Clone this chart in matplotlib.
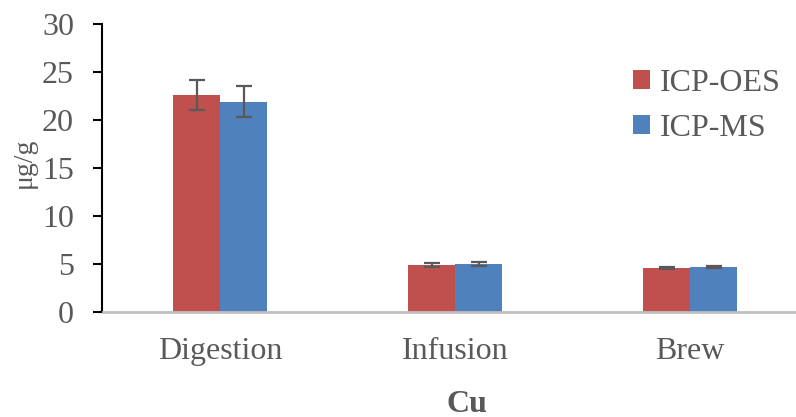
import matplotlib
matplotlib.use("Agg")
import matplotlib.pyplot as plt
import numpy as np

# data
categories = ["Digestion", "Infusion", "Brew"]
oes_values = [22.6, 4.84, 4.56]
oes_errors = [1.52, 0.2, 0.1]
ms_values = [21.9, 4.97, 4.63]
ms_errors = [1.6, 0.19, 0.1]
series_names = ["ICP-OES", "ICP-MS"]
y_ticks = [0, 5, 10, 15, 20, 25, 30]

plt.rcParams["font.family"] = ["Liberation Serif", "DejaVu Serif"]
text_grey = "#595959"
red = "#C0504D"
blue = "#4F81BD"

fig = plt.figure(figsize=(7.96, 4.17), dpi=100)
ax = fig.add_axes([102.5 / 796, 105.3 / 417, 705 / 796, 287.7 / 417])

x = np.arange(len(categories))
width = 0.2
err_style = dict(ecolor="#595959", elinewidth=1.6, capsize=6, capthick=1.6)
ax.bar(x - width / 2, oes_values, width, color=red, yerr=oes_errors,
       error_kw=err_style, label=series_names[0], zorder=2)
ax.bar(x + width / 2, ms_values, width, color=blue, yerr=ms_errors,
       error_kw=err_style, label=series_names[1], zorder=2)

ax.set_xlim(-0.5, 2.5)
ax.set_ylim(0, 30)
ax.set_yticks(y_ticks)
ax.set_xticks(x)
ax.set_xticklabels(categories)

ax.spines["top"].set_visible(False)
ax.spines["right"].set_visible(False)
ax.spines["left"].set_color("black")
ax.spines["left"].set_linewidth(1.5)
ax.spines["bottom"].set_color("#BFBFBF")
ax.spines["bottom"].set_linewidth(2)
ax.spines["bottom"].set_zorder(3)

ax.tick_params(axis="y", direction="out", length=6.5, width=1.5, color="black",
               labelsize=23, labelcolor=text_grey, pad=14)
ax.tick_params(axis="x", length=0, labelsize=23, labelcolor=text_grey, pad=18)

fig.text(24 / 796, 1 - 163 / 417, "μg/g", rotation=90, ha="center", va="center",
         fontsize=20, color=text_grey)
fig.text(467 / 796, 1 - 404 / 417, "Cu", ha="center", va="center",
         fontsize=23, fontweight="bold", color=text_grey)

leg = ax.legend(loc="upper left", bbox_to_anchor=(0.711, 0.945), frameon=False,
                fontsize=23, handlelength=0.55, handleheight=0.55,
                handletextpad=0.3, labelspacing=0.5)
for t in leg.get_texts():
    t.set_color(text_grey)

fig.savefig("out.png", dpi=100)
